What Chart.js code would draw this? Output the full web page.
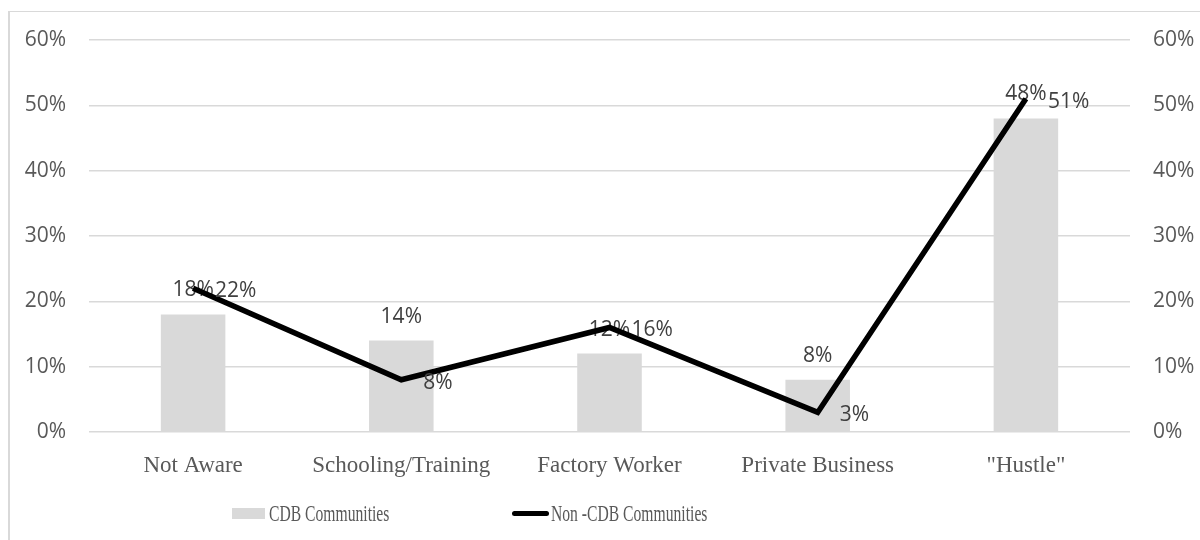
<!DOCTYPE html>
<html>
<head>
<meta charset="utf-8">
<script src="https://cdn.jsdelivr.net/npm/chart.js@4"></script>
<style>
    body { margin: 0; background: #fff; }
    #wrap { position: relative; width: 1200px; height: 540px; overflow: hidden; }
    #frame {
        position: absolute; left: 8px; top: 11px; right: -10px; bottom: -10px;
        border-left: 2px solid #d9d9d9; border-top: 1px solid #d9d9d9;
    }
    canvas { position: absolute; left: 0; top: 0; }
    .leg { position: absolute; top: 503px; height: 22px; }
    .leg span.txt {
        position: absolute; top: 0; white-space: nowrap;
        font: 23px "Liberation Serif", "Times New Roman", serif; color: #595959;
        transform: scaleX(0.68); transform-origin: left center; line-height: 22px;
    }
    .sw { position: absolute; }
</style>
</head>
<body>
<div id="wrap">
    <div id="frame"></div>
    <canvas id="grafica" width="1200" height="540"></canvas>
    <div class="leg" style="left:232px">
        <div class="sw" style="left:0;top:5px;width:33px;height:11px;background:#d9d9d9"></div>
        <span class="txt" style="left:37px">CDB Communities</span>
    </div>
    <div class="leg" style="left:512px">
        <div class="sw" style="left:0;top:8px;width:37px;height:5px;background:#000;border-radius:3px"></div>
        <span class="txt" style="left:39px">Non -CDB Communities</span>
    </div>
</div>
<script>
// Datos
const categorias = ["Not Aware", "Schooling/Training", "Factory Worker", "Private Business", "\"Hustle\""];
const cdb = [18, 14, 12, 8, 48];
const nonCdb = [22, 8, 16, 3, 51];
const ticksY = [0, 10, 20, 30, 40, 50, 60];

const fuenteNum = "Open Sans";
const gris = "#595959";

// Etiquetas de datos
const etiquetas = {
    id: "etiquetas",
    afterDatasetDraw(chart, args) {
        const ctx = chart.ctx;
        const ds = chart.data.datasets[args.index];
        ctx.save();
        ctx.font = `21px "${fuenteNum}"`;
        ctx.fillStyle = "#404040";
        ctx.textBaseline = "middle";
        args.meta.data.forEach((el, i) => {
            const txt = ds.data[i] + "%";
            if (ds.type === "bar") {
                ctx.textAlign = "center";
                ctx.fillText(txt, el.x, el.y - 24);
            } else {
                ctx.textAlign = "left";
                ctx.fillText(txt, el.x + 22, el.y + 3);
            }
        });
        ctx.restore();
    }
};

new Chart(document.getElementById("grafica"), {
    data: {
        labels: categorias,
        datasets: [
            {
                type: "line",
                label: "Non -CDB Communities",
                data: nonCdb,
                yAxisID: "y2",
                borderColor: "#000000",
                borderWidth: 5.5,
                pointRadius: 0,
                tension: 0,
                order: 0
            },
            {
                type: "bar",
                label: "CDB Communities",
                data: cdb,
                yAxisID: "y",
                backgroundColor: "#d9d9d9",
                categoryPercentage: 1,
                barPercentage: 0.31,
                order: 1
            }
        ]
    },
    options: {
        responsive: false,
        animation: false,
        layout: { padding: { left: 0, right: 0, top: 40, bottom: 0 } },
        plugins: {
            legend: { display: false },
            tooltip: { enabled: false }
        },
        scales: {
            x: {
                grid: { display: false },
                border: { display: false },
                ticks: {
                    color: gris,
                    padding: 12,
                    maxRotation: 0,
                    font: { family: "Liberation Serif", size: 23 }
                },
                afterFit: s => { s.height = 108; }
            },
            y: {
                position: "left",
                min: 0, max: 60,
                afterBuildTicks: s => { s.ticks = ticksY.map(v => ({ value: v })); },
                grid: { color: "#d9d9d9", lineWidth: 1.5, drawTicks: false },
                border: { display: false },
                ticks: {
                    color: gris,
                    padding: 23,
                    font: { family: fuenteNum, size: 21 },
                    callback: v => v + "%"
                },
                afterFit: s => { s.width = 89; }
            },
            y2: {
                position: "right",
                min: 0, max: 60,
                afterBuildTicks: s => { s.ticks = ticksY.map(v => ({ value: v })); },
                grid: { display: false, drawTicks: false },
                border: { display: false },
                ticks: {
                    color: gris,
                    padding: 23,
                    font: { family: fuenteNum, size: 21 },
                    callback: v => v + "%"
                },
                afterFit: s => { s.width = 70; }
            }
        }
    },
    plugins: [etiquetas]
});
</script>
</body>
</html>
